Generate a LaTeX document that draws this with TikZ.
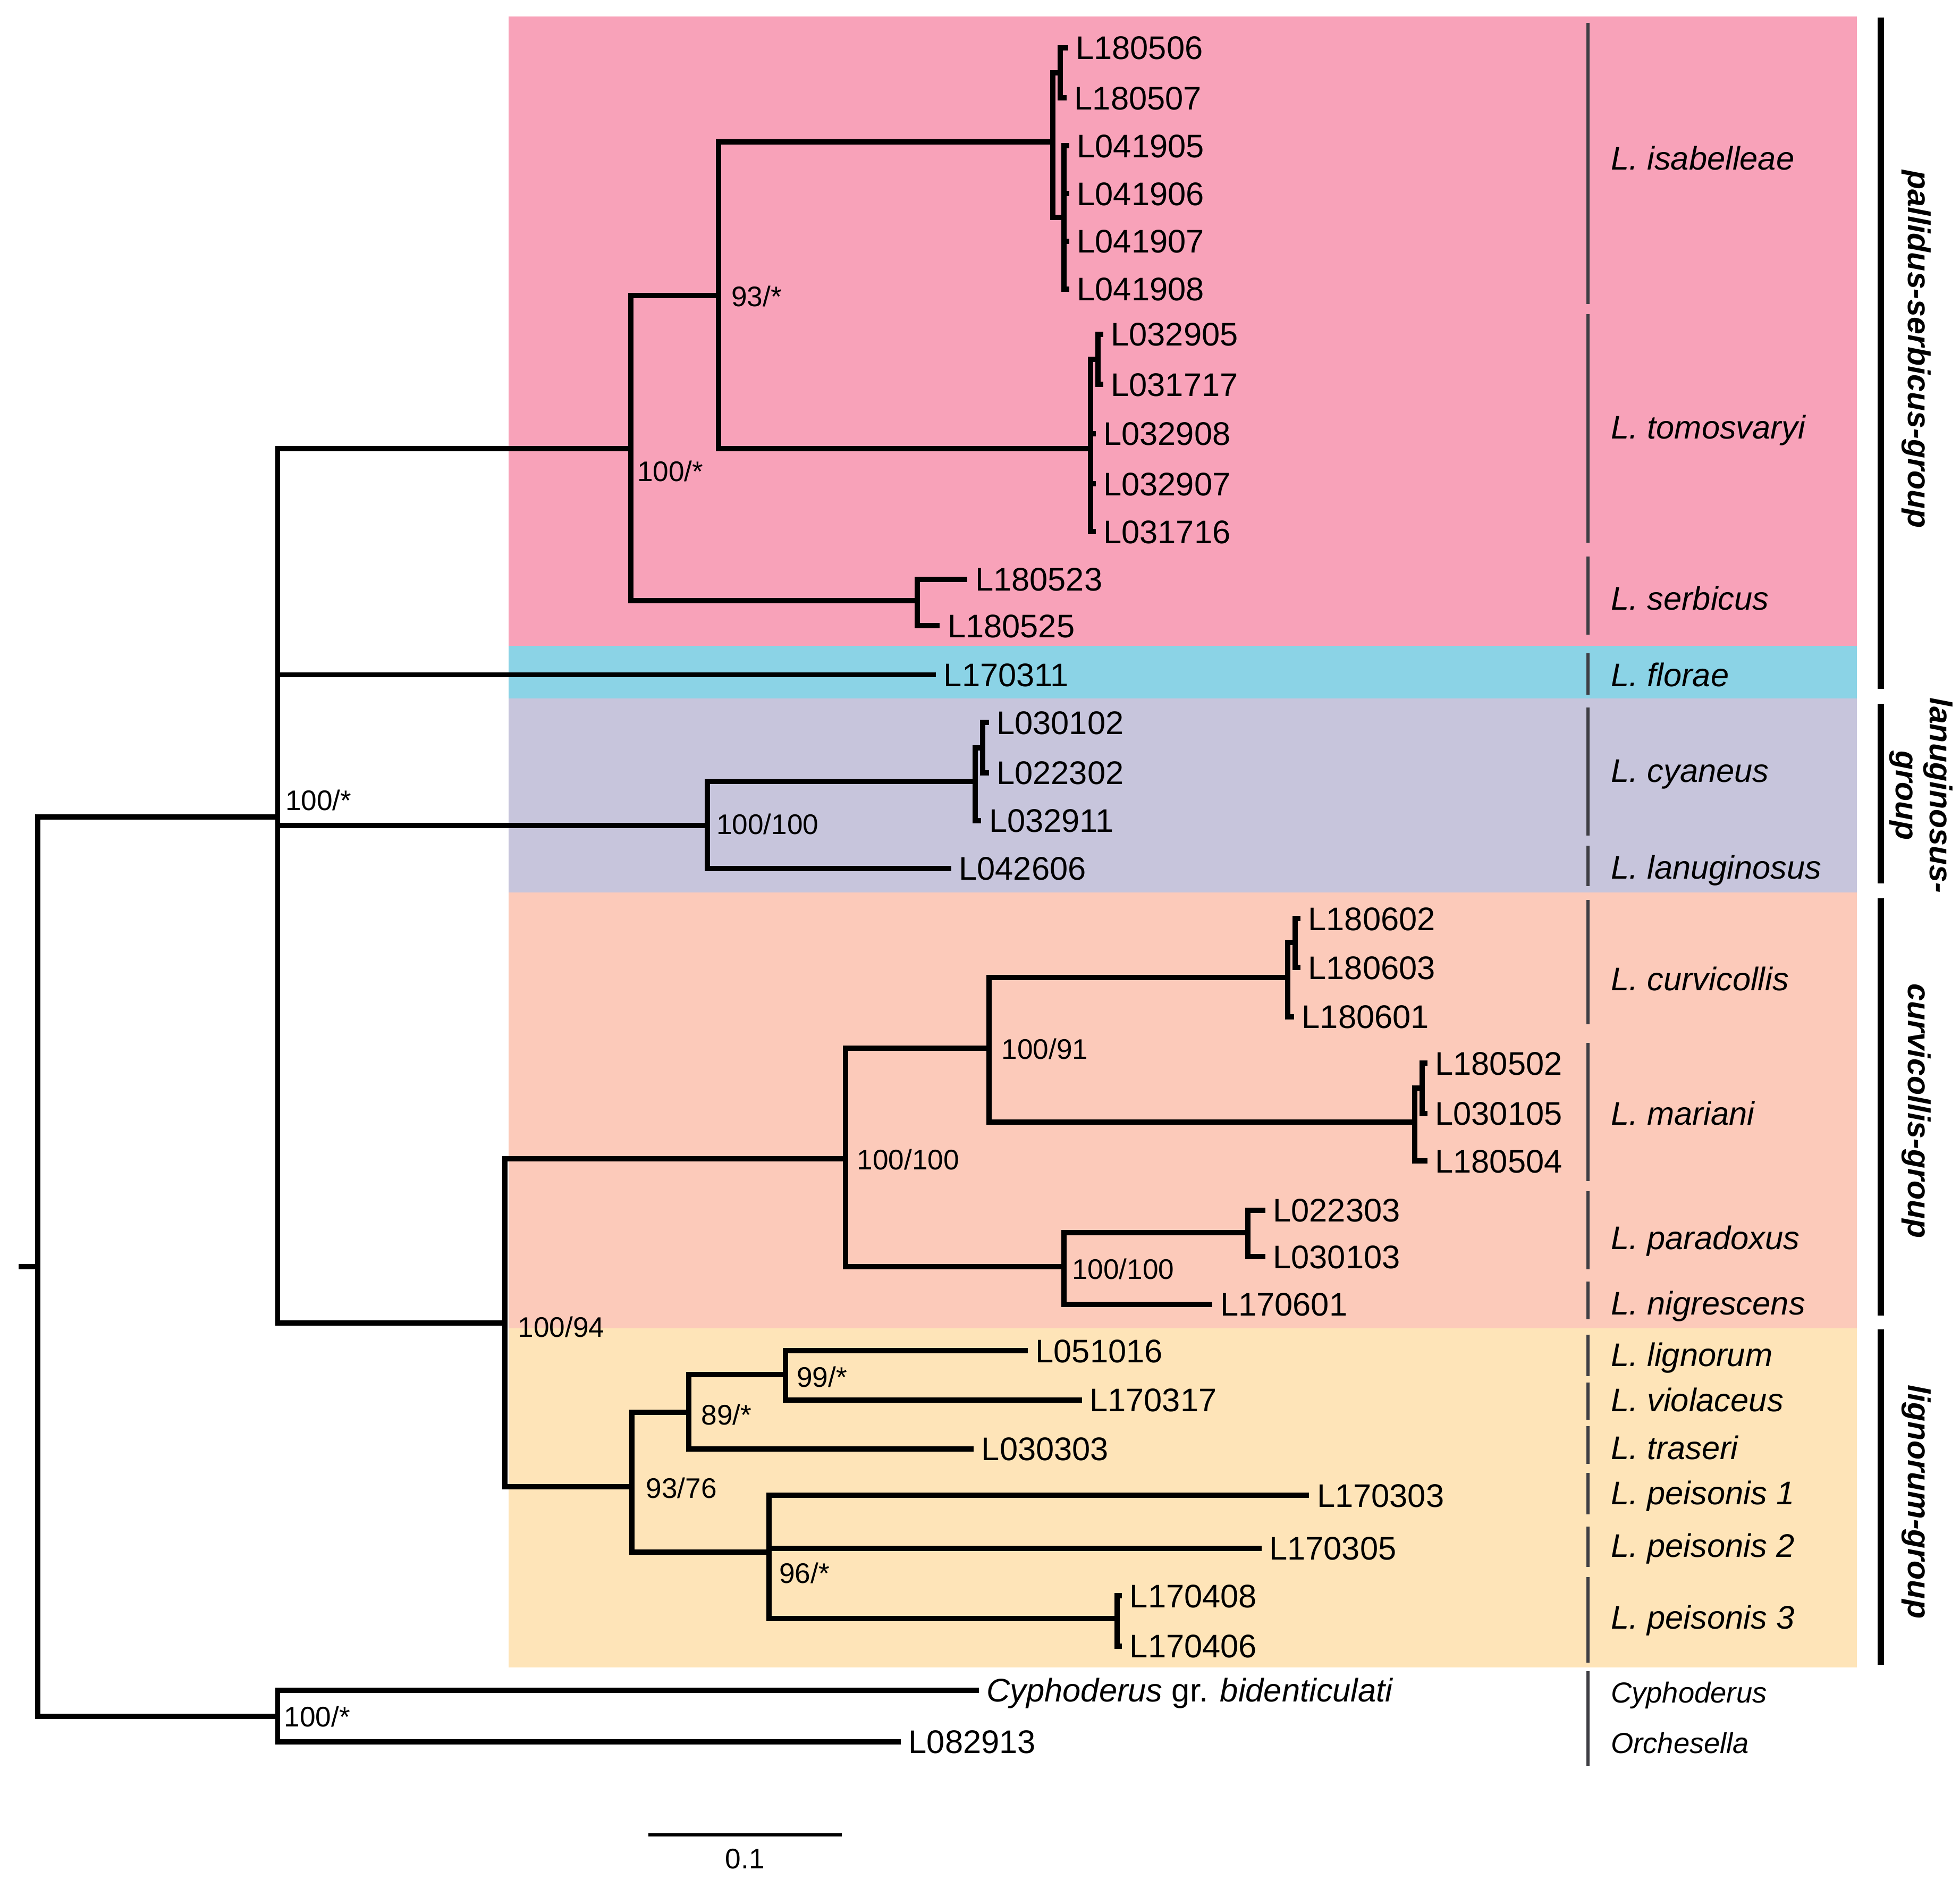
\documentclass[tikz,border=0pt]{standalone}
\usepackage{fontspec}
\setmainfont{Liberation Sans}
\definecolor{cpink}{RGB}{248,162,185}
\definecolor{cblue}{RGB}{139,211,230}
\definecolor{cpurp}{RGB}{199,197,220}
\definecolor{csalm}{RGB}{252,202,186}
\definecolor{cyell}{RGB}{254,228,184}
\definecolor{cdiv}{RGB}{62,62,68}
\tikzset{
  br/.style={line width=4.2pt, line join=miter},
  tip/.style={anchor=base west, inner sep=0pt, font=\fontsize{26}{30}\selectfont, yshift=-9.3pt, xshift=6pt},
  sup/.style={anchor=base west, inner sep=0pt, font=\fontsize{22.5}{26}\selectfont, yshift=-8pt},
  spc/.style={anchor=base west, inner sep=0pt, font=\fontsize{26}{30}\selectfont\itshape, yshift=-9.3pt},
  spcs/.style={anchor=base west, inner sep=0pt, font=\fontsize{23}{26}\selectfont\itshape, yshift=-8.2pt},
  divl/.style={draw=cdiv, line width=2.5pt},
  grp/.style={font=\fontsize{25}{27}\selectfont\bfseries\itshape, rotate=-90, align=center, inner sep=0pt},
  gbar/.style={line width=5.2pt},
}
\begin{document}
\begin{tikzpicture}[x=1pt,y=-1pt]
\useasboundingbox (0,0) rectangle (1560,1495);
% backgrounds
\fill[cpink] (405,13) rectangle (1478,514);
\fill[cblue] (405,514) rectangle (1478,556);
\fill[cpurp] (405,556) rectangle (1478,710);
\fill[csalm] (405,710) rectangle (1478,1057);
\fill[cyell] (405,1057) rectangle (1478,1327);

% ---------- coordinates ----------
\coordinate (R0) at (15,1008);
\coordinate (R) at (30,1008);
\coordinate (A) at (221,650);
\coordinate (O) at (221,1366);
\coordinate (PS) at (502,357);
\coordinate (T170311) at (745,537);
\coordinate (LAN) at (563,657);
\coordinate (LOW) at (402,1053);
\coordinate (PS1) at (572,235);
\coordinate (SER) at (730,478);
\coordinate (ISA) at (838,113);
\coordinate (TOM) at (868,357);
\coordinate (ISAp) at (844,58);
\coordinate (ISAq) at (847,173);
\coordinate (T180506) at (850,38);
\coordinate (T180507) at (849,78);
\coordinate (T041905) at (851,116);
\coordinate (T041906) at (851,154);
\coordinate (T041907) at (851,192);
\coordinate (T041908) at (851,230);
\coordinate (TOMp) at (874,286);
\coordinate (T032905) at (878,266);
\coordinate (T031717) at (878,306);
\coordinate (T032908) at (872,345);
\coordinate (T032907) at (872,385);
\coordinate (T031716) at (872,423);
\coordinate (T180523) at (770,461);
\coordinate (T180525) at (748,498);
\coordinate (CYA) at (776,622);
\coordinate (T042606) at (757,691);
\coordinate (CYAp) at (782,595);
\coordinate (T032911) at (781,653);
\coordinate (T030102) at (787,575);
\coordinate (T022302) at (787,615);
\coordinate (CM) at (673,922);
\coordinate (LIG) at (503,1183);
\coordinate (CM1) at (787,834);
\coordinate (PN) at (847,1008);
\coordinate (CUR) at (1025,778);
\coordinate (MAR) at (1126,893);
\coordinate (CURp) at (1031,750);
\coordinate (T180601) at (1030,809);
\coordinate (T180602) at (1035,731);
\coordinate (T180603) at (1035,770);
\coordinate (MARp) at (1132,866);
\coordinate (T180504) at (1136,924);
\coordinate (T180502) at (1136,846);
\coordinate (T030105) at (1136,886);
\coordinate (PAR) at (993,981);
\coordinate (T170601) at (965,1038);
\coordinate (T022303) at (1007,963);
\coordinate (T030103) at (1007,1000);
\coordinate (LIG1) at (548,1124);
\coordinate (PEI) at (612,1235);
\coordinate (LIG2) at (625,1094);
\coordinate (T030303) at (775,1153);
\coordinate (T051016) at (818,1075);
\coordinate (T170317) at (861,1114);
\coordinate (T170303) at (1042,1190);
\coordinate (T170305) at (1004,1232);
\coordinate (PEI3) at (889,1288);
\coordinate (T170408) at (893,1270);
\coordinate (T170406) at (893,1310);
\coordinate (TCyph) at (779,1345);
\coordinate (T082913) at (717,1386);

% ---------- branches ----------
\draw[br] (R0) -- (R);
\draw[br] (R) |- (A);
\draw[br] (R) |- (O);
\draw[br] (A) |- (PS);
\draw[br] (A) |- (T170311);
\draw[br] (A) |- (LAN);
\draw[br] (A) |- (LOW);
\draw[br] (PS) |- (PS1);
\draw[br] (PS) |- (SER);
\draw[br] (PS1) |- (ISA);
\draw[br] (PS1) |- (TOM);
\draw[br] (ISA) |- (ISAp);
\draw[br] (ISA) |- (ISAq);
\draw[br] (ISAp) |- (T180506);
\draw[br] (ISAp) |- (T180507);
\draw[br] (ISAq) |- (T041905);
\draw[br] (ISAq) |- (T041906);
\draw[br] (ISAq) |- (T041907);
\draw[br] (ISAq) |- (T041908);
\draw[br] (TOM) |- (TOMp);
\draw[br] (TOM) |- (T032908);
\draw[br] (TOM) |- (T032907);
\draw[br] (TOM) |- (T031716);
\draw[br] (TOMp) |- (T032905);
\draw[br] (TOMp) |- (T031717);
\draw[br] (SER) |- (T180523);
\draw[br] (SER) |- (T180525);
\draw[br] (LAN) |- (CYA);
\draw[br] (LAN) |- (T042606);
\draw[br] (CYA) |- (CYAp);
\draw[br] (CYA) |- (T032911);
\draw[br] (CYAp) |- (T030102);
\draw[br] (CYAp) |- (T022302);
\draw[br] (LOW) |- (CM);
\draw[br] (LOW) |- (LIG);
\draw[br] (CM) |- (CM1);
\draw[br] (CM) |- (PN);
\draw[br] (CM1) |- (CUR);
\draw[br] (CM1) |- (MAR);
\draw[br] (CUR) |- (CURp);
\draw[br] (CUR) |- (T180601);
\draw[br] (CURp) |- (T180602);
\draw[br] (CURp) |- (T180603);
\draw[br] (MAR) |- (MARp);
\draw[br] (MAR) |- (T180504);
\draw[br] (MARp) |- (T180502);
\draw[br] (MARp) |- (T030105);
\draw[br] (PN) |- (PAR);
\draw[br] (PN) |- (T170601);
\draw[br] (PAR) |- (T022303);
\draw[br] (PAR) |- (T030103);
\draw[br] (LIG) |- (LIG1);
\draw[br] (LIG) |- (PEI);
\draw[br] (LIG1) |- (LIG2);
\draw[br] (LIG1) |- (T030303);
\draw[br] (LIG2) |- (T051016);
\draw[br] (LIG2) |- (T170317);
\draw[br] (PEI) |- (T170303);
\draw[br] (PEI) |- (T170305);
\draw[br] (PEI) |- (PEI3);
\draw[br] (PEI3) |- (T170408);
\draw[br] (PEI3) |- (T170406);
\draw[br] (O) |- (TCyph);
\draw[br] (O) |- (T082913);

% ---------- tip labels ----------
\node[tip] (l180506) at (T180506) {L180506};
\node[tip] (l180507) at (T180507) {L180507};
\node[tip] (l041905) at (T041905) {L041905};
\node[tip] (l041906) at (T041906) {L041906};
\node[tip] (l041907) at (T041907) {L041907};
\node[tip] (l041908) at (T041908) {L041908};
\node[tip] (l032905) at (T032905) {L032905};
\node[tip] (l031717) at (T031717) {L031717};
\node[tip] (l032908) at (T032908) {L032908};
\node[tip] (l032907) at (T032907) {L032907};
\node[tip] (l031716) at (T031716) {L031716};
\node[tip] (l180523) at (T180523) {L180523};
\node[tip] (l180525) at (T180525) {L180525};
\node[tip] (l170311) at (T170311) {L170311};
\node[tip] (l030102) at (T030102) {L030102};
\node[tip] (l022302) at (T022302) {L022302};
\node[tip] (l032911) at (T032911) {L032911};
\node[tip] (l042606) at (T042606) {L042606};
\node[tip] (l180602) at (T180602) {L180602};
\node[tip] (l180603) at (T180603) {L180603};
\node[tip] (l180601) at (T180601) {L180601};
\node[tip] (l180502) at (T180502) {L180502};
\node[tip] (l030105) at (T030105) {L030105};
\node[tip] (l180504) at (T180504) {L180504};
\node[tip] (l022303) at (T022303) {L022303};
\node[tip] (l030103) at (T030103) {L030103};
\node[tip] (l170601) at (T170601) {L170601};
\node[tip] (l051016) at (T051016) {L051016};
\node[tip] (l170317) at (T170317) {L170317};
\node[tip] (l030303) at (T030303) {L030303};
\node[tip] (l170303) at (T170303) {L170303};
\node[tip] (l170305) at (T170305) {L170305};
\node[tip] (l170408) at (T170408) {L170408};
\node[tip] (l170406) at (T170406) {L170406};
\node[tip] (lcyph) at (TCyph) {\textit{Cyphoderus} gr. \textit{bidenticulati}};
\node[tip] (l082913) at (T082913) {L082913};

% ---------- support values ----------
\node[sup] (sA) at (227,637) {100/*};
\node[sup] (sPS) at (507,375) {100/*};
\node[sup] (sPS1) at (582,236) {93/*};
\node[sup] (sLAN) at (570,656) {100/100};
\node[sup] (sLOW) at (412,1056) {100/94};
\node[sup] (sCM) at (682,923) {100/100};
\node[sup] (sCM1) at (797,835) {100/91};
\node[sup] (sPN) at (853,1010) {100/100};
\node[sup] (sLIG) at (514,1184) {93/76};
\node[sup] (sLIG1) at (558,1126) {89/*};
\node[sup] (sLIG2) at (634,1096) {99/*};
\node[sup] (sPEI) at (620,1252) {96/*};
\node[sup] (sO) at (226,1366) {100/*};

% ---------- species dividers ----------
\draw[divl] (1264,18) -- (1264,242);
\draw[divl] (1264,250) -- (1264,432);
\draw[divl] (1264,443) -- (1264,505);
\draw[divl] (1264,520) -- (1264,553);
\draw[divl] (1264,563) -- (1264,665);
\draw[divl] (1264,673) -- (1264,705);
\draw[divl] (1264,716) -- (1264,815);
\draw[divl] (1264,830) -- (1264,940);
\draw[divl] (1264,948) -- (1264,1010);
\draw[divl] (1264,1020) -- (1264,1050);
\draw[divl] (1264,1062) -- (1264,1095);
\draw[divl] (1264,1100) -- (1264,1130);
\draw[divl] (1264,1135) -- (1264,1165);
\draw[divl] (1264,1172) -- (1264,1205);
\draw[divl] (1264,1215) -- (1264,1247);
\draw[divl] (1264,1255) -- (1264,1323);
\draw[divl] (1264,1330) -- (1264,1405);

% ---------- species names ----------
\node[spc] (nisa) at (1282,126) {L. isabelleae};
\node[spc] (ntom) at (1282,340) {L. tomosvaryi};
\node[spc] (nser) at (1282,476) {L. serbicus};
\node[spc] (nflo) at (1282,537) {L. florae};
\node[spc] (ncya) at (1282,613) {L. cyaneus};
\node[spc] (nlan) at (1282,690) {L. lanuginosus};
\node[spc] (ncur) at (1282,779) {L. curvicollis};
\node[spc] (nmar) at (1282,886) {L. mariani};
\node[spc] (npar) at (1282,985) {L. paradoxus};
\node[spc] (nnig) at (1282,1037) {L. nigrescens};
\node[spc] (nlig) at (1282,1078) {L. lignorum};
\node[spc] (nvio) at (1282,1114) {L. violaceus};
\node[spc] (ntra) at (1282,1152) {L. traseri};
\node[spc] (npe1) at (1282,1188) {L. peisonis 1};
\node[spc] (npe2) at (1282,1230) {L. peisonis 2};
\node[spc] (npe3) at (1282,1287) {L. peisonis 3};
\node[spcs] (ncyp) at (1282,1347) {Cyphoderus};
\node[spcs] (norc) at (1282,1387) {Orchesella};

% ---------- group bars and labels ----------
\draw[gbar] (1497,14) -- (1497,548);
\draw[gbar] (1497,560) -- (1497,703);
\draw[gbar] (1497,715) -- (1497,1047);
\draw[gbar] (1497,1058) -- (1497,1325);
\node[grp] (gps) at (1525,278) {pallidus-serbicus-group};
\node[grp] (glan) at (1529,633) {lanuginosus-\\group};
\node[grp] (gcur) at (1525,884) {curvicollis-group};
\node[grp] (glig) at (1525,1195) {lignorum-group};

% ---------- scale bar ----------
\coordinate (sb1) at (516,1460);
\coordinate (sb2) at (670,1460);
\draw[line width=2.5pt] (sb1) -- (sb2);
\node[anchor=base, inner sep=0pt, font=\fontsize{22.5}{26}\selectfont] (sbl) at (593,1487) {0.1};
\end{tikzpicture}
\end{document}
